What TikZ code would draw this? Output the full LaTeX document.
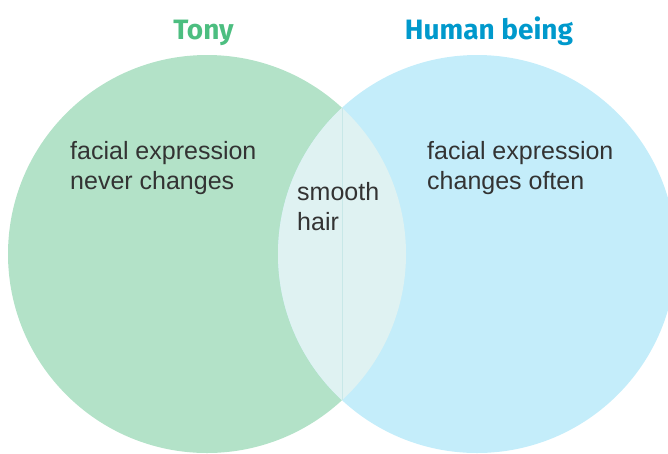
\documentclass[tikz,border=0pt]{standalone}
\usepackage{fontspec}
\setmainfont{Liberation Sans}
\newfontfamily\titlefont{Fira Sans}
\definecolor{tonygreen}{RGB}{179, 226, 200}
\definecolor{humanblue}{RGB}{196, 237, 250}
\definecolor{lensfill}{RGB}{223, 242, 242}
\definecolor{lensline}{RGB}{200, 232, 232}
\definecolor{tonytitle}{RGB}{76, 190, 128}
\definecolor{humantitle}{RGB}{0, 153, 204}
\definecolor{bodytext}{RGB}{51, 51, 51}
\usetikzlibrary{positioning}

\begin{document}
\begin{tikzpicture}[x=1pt, y=-1pt,
  title/.style={anchor=base, inner sep=0pt, font=\titlefont\fontsize{28}{28}\selectfont\bfseries},
  label/.style={anchor=base west, inner sep=0pt, align=left, text=bodytext, font=\fontsize{25}{30}\selectfont}]
  \useasboundingbox (0,0) rectangle (668,453);

  % Sets
  \fill[tonygreen] (207,254) circle (199pt);
  \fill[humanblue] (477,254) circle (199pt);

  % Overlap
  \begin{scope}
    \clip (207,254) circle (199pt);
    \fill[lensfill] (477,254) circle (199pt);
  \end{scope}
  \coordinate (lenstop) at (342,108);
  \coordinate (lensbot) at (342,400);
  \draw[lensline, line width=0.6pt] (lenstop) -- (lensbot);

  % Titles
  \node[title, text=tonytitle] (tony) at (203.5,39) {Tony};
  \node[title, text=humantitle] (human) at (489,39) {Human being};

  % Labels (placed at the baseline of the last line)
  \node[label] (tonytext) at (70,189) {facial expression\\never changes};
  \node[label] (bothtext) at (297,230) {smooth\\hair};
  \node[label] (humantext) at (427,189) {facial expression\\changes often};
\end{tikzpicture}
\end{document}
